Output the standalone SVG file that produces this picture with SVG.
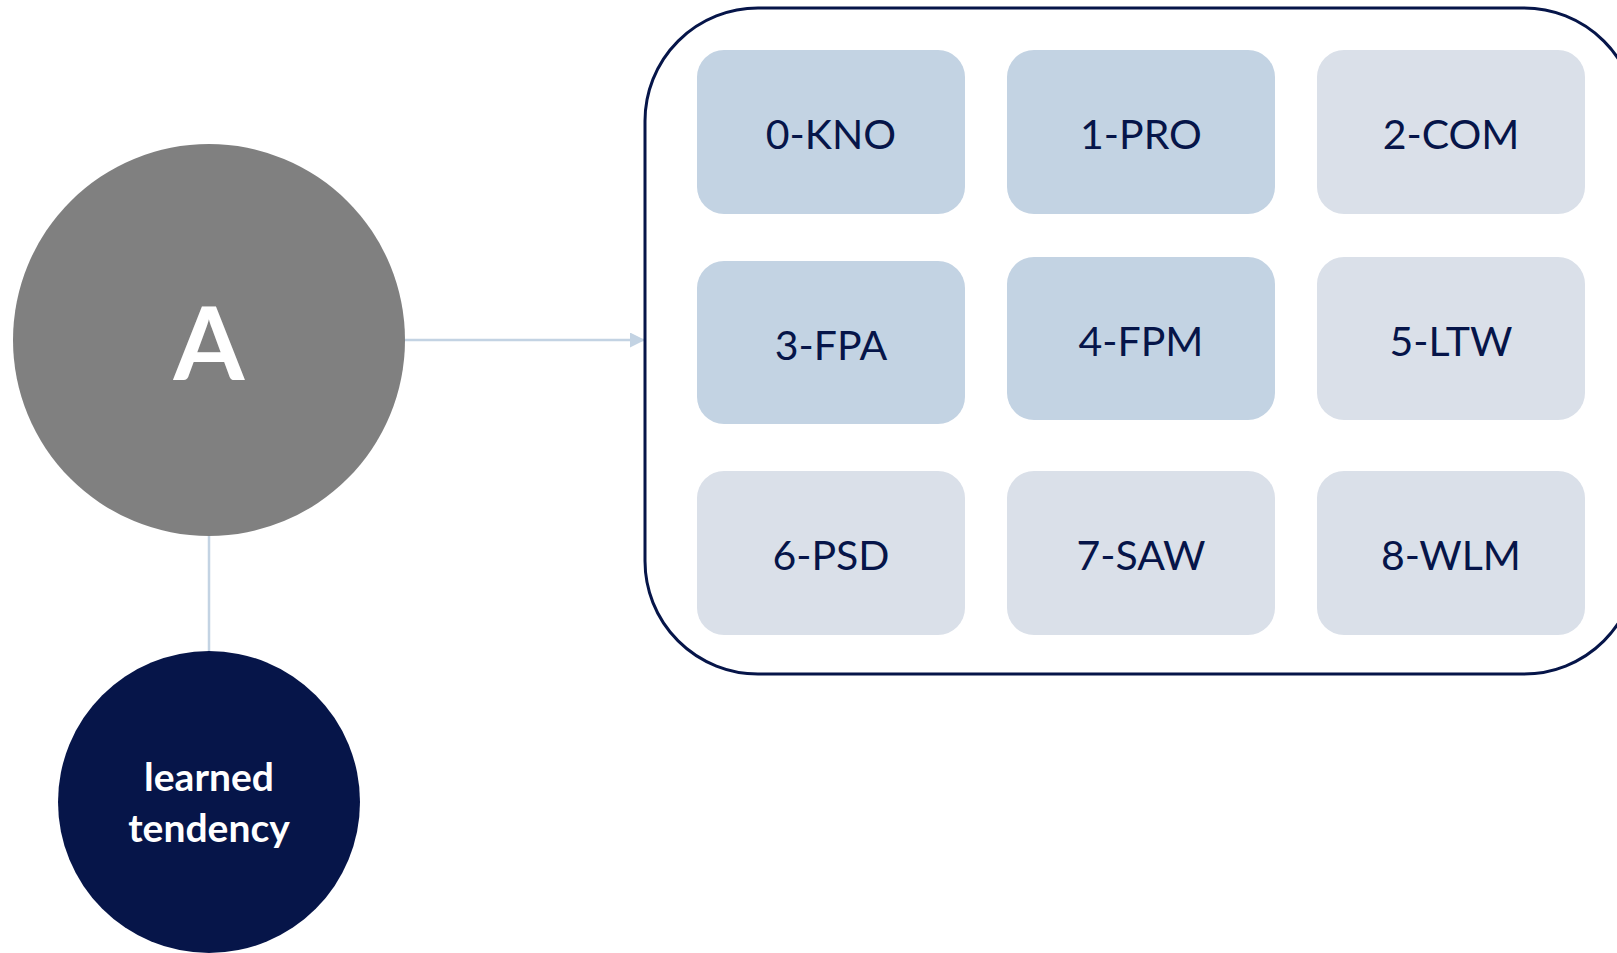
<svg xmlns="http://www.w3.org/2000/svg" width="1617" height="953" viewBox="0 0 1617 953">
  <style>
    .conn { stroke: #C3D3E3; stroke-width: 2.5; fill: none; }
    .tile-a { fill: #C3D3E3; }
    .tile-b { fill: #DAE0E9; }
    .tile-label { font-family: Lato, "Open Sans", sans-serif; font-size: 41px; fill: #061549; text-anchor: middle; }
    .circle-label { font-family: Lato, "Open Sans", sans-serif; font-weight: bold; fill: #FFFFFF; text-anchor: middle; }
  </style>
  <defs>
    <marker id="arrow" markerUnits="userSpaceOnUse" markerWidth="16" markerHeight="16" refX="15" refY="7.5" orient="auto">
      <path d="M0,0 L15,7.5 L0,15 Z" fill="#C3D3E3"/>
    </marker>
  </defs>
  <rect width="1617" height="953" fill="#FFFFFF"/>

  <!-- connectors -->
  <g id="connectors">
    <line class="conn" x1="405" y1="340" x2="645" y2="340" marker-end="url(#arrow)"/>
    <line class="conn" x1="209" y1="536" x2="209" y2="651"/>
  </g>

  <!-- source node -->
  <g id="node-a">
    <circle cx="209" cy="340" r="196" fill="#808080"/>
    <text class="circle-label" x="209" y="380" font-size="102">A</text>
  </g>

  <!-- tendency node -->
  <g id="node-learned-tendency">
    <circle cx="209" cy="802" r="151" fill="#061549"/>
    <text class="circle-label" x="209" y="791" font-size="39">learned</text>
    <text class="circle-label" x="209" y="842" font-size="39">tendency</text>
  </g>

  <!-- category container -->
  <g id="node-categories">
    <rect x="645" y="8" width="992" height="666" rx="113" ry="113" fill="#FFFFFF" stroke="#061549" stroke-width="3"/>
  </g>

  <g id="tile-0"><rect class="tile-a" x="697" y="50" width="268" height="164" rx="27"/><text class="tile-label" x="831" y="149">0-KNO</text></g>
  <g id="tile-1"><rect class="tile-a" x="1007" y="50" width="268" height="164" rx="27"/><text class="tile-label" x="1141" y="149">1-PRO</text></g>
  <g id="tile-2"><rect class="tile-b" x="1317" y="50" width="268" height="164" rx="27"/><text class="tile-label" x="1451" y="149">2-COM</text></g>

  <g id="tile-3"><rect class="tile-a" x="697" y="261" width="268" height="163" rx="27"/><text class="tile-label" x="831" y="360">3-FPA</text></g>
  <g id="tile-4"><rect class="tile-a" x="1007" y="257" width="268" height="163" rx="27"/><text class="tile-label" x="1141" y="356">4-FPM</text></g>
  <g id="tile-5"><rect class="tile-b" x="1317" y="257" width="268" height="163" rx="27"/><text class="tile-label" x="1451" y="356">5-LTW</text></g>

  <g id="tile-6"><rect class="tile-b" x="697" y="471" width="268" height="164" rx="27"/><text class="tile-label" x="831" y="570">6-PSD</text></g>
  <g id="tile-7"><rect class="tile-b" x="1007" y="471" width="268" height="164" rx="27"/><text class="tile-label" x="1141" y="570">7-SAW</text></g>
  <g id="tile-8"><rect class="tile-b" x="1317" y="471" width="268" height="164" rx="27"/><text class="tile-label" x="1451" y="570">8-WLM</text></g>
</svg>
